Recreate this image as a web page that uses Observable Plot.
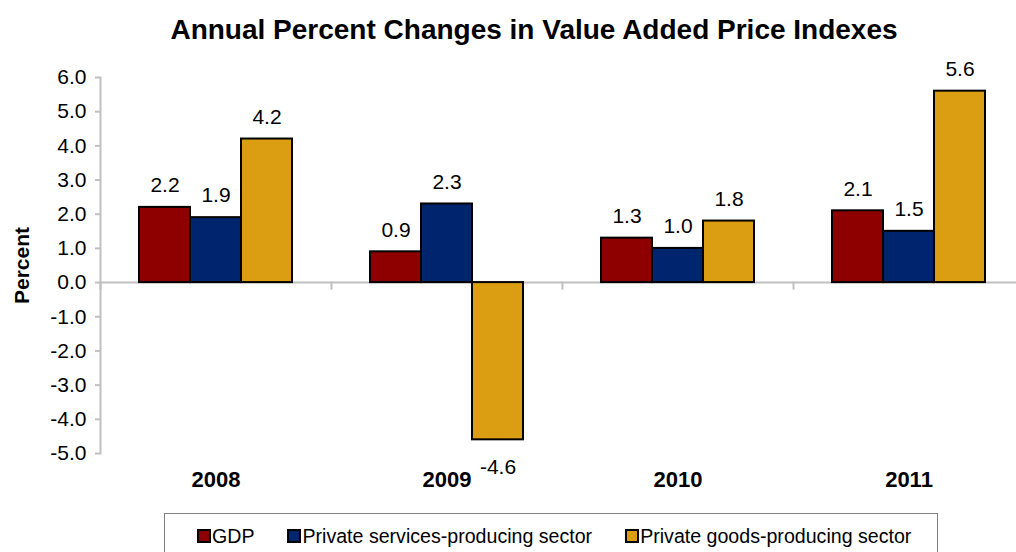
<!DOCTYPE html>
<html><head><meta charset="utf-8">
<script src="https://cdn.jsdelivr.net/npm/d3@7"></script>
<script src="https://cdn.jsdelivr.net/npm/@observablehq/plot@0.6"></script>
<style>
body{margin:0;background:#fff;font-family:"Liberation Sans",Arial,sans-serif;width:1016px;height:552px;overflow:hidden;position:relative;color:#000}
#title{position:absolute;left:52px;width:964px;top:14px;line-height:32px;text-align:center;font-weight:bold;font-size:28px;}
#chart{position:absolute;left:0;top:60px}
#legend{position:absolute;left:164px;top:513px;width:774px;height:50px;border:1.5px solid #7f7f7f;box-sizing:border-box;display:flex;align-items:flex-start;padding-top:10px;padding-left:32px;font-size:19.6px;line-height:24px;white-space:nowrap}
.item{display:flex;align-items:center;margin-right:33px;flex-shrink:0;white-space:nowrap}
.sw{width:10px;height:10px;border:2px solid #000;margin-right:1px;display:inline-block;flex-shrink:0}
</style></head>
<body>
<div id="title">Annual Percent Changes in Value Added Price Indexes</div>
<div id="chart"></div>
<div id="legend"></div>
<script>
const years = ["2008", "2009", "2010", "2011"];
const series = ["GDP", "Private services-producing sector", "Private goods-producing sector"];
const gdp = [2.2, 0.9, 1.3, 2.1];
const services = [1.9, 2.3, 1.0, 1.5];
const goods = [4.2, -4.6, 1.8, 5.6];
const colors = ["#8E0000", "#00256F", "#DB9E13"];
const yTicks = [-5, -4, -3, -2, -1, 0, 1, 2, 3, 4, 5, 6];
const yLabel = "Percent";

const values = [gdp, services, goods];
const rows = years.flatMap((yr, i) => series.map((s, j) => ({year: yr, series: s, value: values[j][i]})));

const W = 1016, H = 440, mt = 17, mb = 47;
const plotH = H - mt - mb;
const tickLen = 6;

const chart = Plot.plot({
  width: W, height: H, marginTop: mt, marginBottom: mb, marginLeft: 100, marginRight: -8,
  style: {fontFamily: '"Liberation Sans", Arial, sans-serif', fontSize: "21px", color: "#000", background: "#fff", overflow: "visible"},
  fx: {domain: years, padding: 0},
  x: {domain: series, paddingInner: 0, paddingOuter: 0.75, axis: null},
  y: {domain: [-5, 6]},
  color: {domain: series, range: colors},
  marks: [
    Plot.ruleY([0], {stroke: "#c0c0c0", strokeWidth: 2}),
    Plot.frame({anchor: "left", stroke: "#c0c0c0", strokeWidth: 2, insetTop: plotH * 6 / 11, insetBottom: plotH * 5 / 11 - tickLen}),
    Plot.frame({anchor: "left", facetAnchor: "left", stroke: "#c0c0c0", strokeWidth: 2}),
    Plot.axisY({ticks: yTicks, tickFormat: d => d.toFixed(1), tickSize: 5, stroke: "#c0c0c0", strokeWidth: 2, tickPadding: 9, fontSize: 21, label: null}),
    Plot.text([yLabel], {text: d => d, frameAnchor: "left", facetAnchor: "left", rotate: -90, dx: -78, fontSize: 21, fontWeight: "bold", textAnchor: "middle"}),
    Plot.axisFx({anchor: "bottom", tickSize: 0, tickPadding: 18, fontSize: 22, fontWeight: "bold", label: null}),
    Plot.barY(rows, {fx: "year", x: "series", y: "value", fill: "series", stroke: "#000", strokeWidth: 2}),
    Plot.text(rows.filter(d => d.value >= 0), {fx: "year", x: "series", y: "value", text: d => d.value.toFixed(1), dy: -22, fontSize: 21}),
    Plot.text(rows.filter(d => d.value < 0), {fx: "year", x: "series", y: "value", text: d => d.value.toFixed(1), dy: 27, fontSize: 21})
  ]
});
document.getElementById("chart").appendChild(chart);

const legend = document.getElementById("legend");
series.forEach((s, i) => {
  const it = document.createElement("div");
  it.className = "item";
  const sw = document.createElement("span");
  sw.className = "sw";
  sw.style.background = colors[i];
  const t = document.createElement("span");
  t.textContent = s;
  it.appendChild(sw); it.appendChild(t);
  legend.appendChild(it);
});
</script>
</body></html>
